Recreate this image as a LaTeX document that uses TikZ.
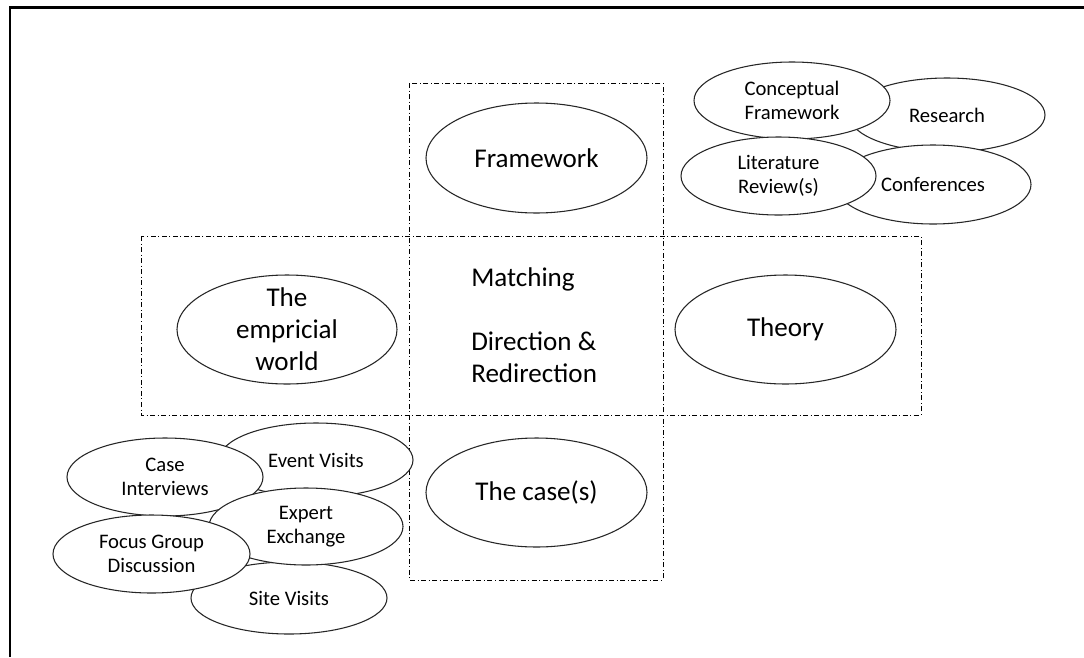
\documentclass[tikz,border=0pt]{standalone}
\usepackage{fontspec}
\setmainfont{Carlito}
\usetikzlibrary{shapes.geometric}
\begin{document}
\begin{tikzpicture}[x=0.75pt,y=-0.75pt,
  bubble/.style={ellipse, draw=black!85, line width=0.8pt, fill=white, inner sep=0pt},
  zone/.style={draw=black, line width=0.6pt, dash pattern=on 3.75pt off 1.9pt on 0.75pt off 1.9pt},
  big/.style={font=\fontsize{20.3}{24}\selectfont, align=center, inner sep=0pt},
  small/.style={font=\fontsize{15.5}{18}\selectfont, align=center, inner sep=0pt}]
\useasboundingbox (0,0) rectangle (1084,657);
\fill[white] (0,0) rectangle (1084,657);
% page frame
\draw[line width=1.6pt] (10,657) -- (10,7.5) -- (1084,7.5);

% the two crossing zones
\draw[zone] (409,83) rectangle (663,580);
\draw[zone] (141,236) rectangle (921,415);

% main ellipses (size given as radii in px)
\newcommand\bubble[5]{\node[bubble, minimum width=#4*1.5pt, minimum height=#5*1.5pt] (#1) at (#2,#3) {};}

\bubble{fw}{536.5}{158}{110.5}{55}
\node[big] (fwt) at (fw) {Framework};
\bubble{cs}{536.5}{492.5}{110.5}{54.5}
\node[big] (cst) at (cs) {The case(s)};
\bubble{ew}{287}{329.5}{110}{54.5}
\node[big] (ewt) at (ew) {The\\empricial\\world};
\bubble{th}{785.5}{329.5}{110.5}{54.5}
\node[big] (tht) at (th) {Theory};

% centre text
\node[big, align=left, anchor=west] (mid) at (471,325) {Matching\\[24pt]Direction \&\\Redirection};

% theory sources
\bubble{rs}{947}{115}{98}{37}
\node[small] (rst) at (rs) {Research};
\bubble{cf}{792}{100.5}{98}{38.5}
\node[small] (cft) at (cf) {Conceptual\\Framework};
\bubble{co}{933}{184.5}{98}{39.5}
\node[small] (cot) at (co) {Conferences};
\bubble{lr}{778.5}{176}{97.5}{39}
\node[small] (lrt) at (lr) {Literature\\Review(s)};

% empirical sources
\bubble{ev}{316}{460}{97}{37}
\node[small] (evt) at (ev) {Event Visits};
\bubble{ci}{165}{477}{98}{39}
\node[small] (cit) at (ci) {Case\\Interviews};
\bubble{sv}{289}{598}{98}{36}
\node[small] (svt) at (sv) {Site Visits};
\bubble{ee}{306}{526.5}{97}{38.5}
\node[small] (eet) at (ee) {Expert\\Exchange};
\bubble{fg}{151.5}{554}{98.5}{39}
\node[small] (fgt) at (fg) {Focus Group\\Discussion};
\end{tikzpicture}
\end{document}
